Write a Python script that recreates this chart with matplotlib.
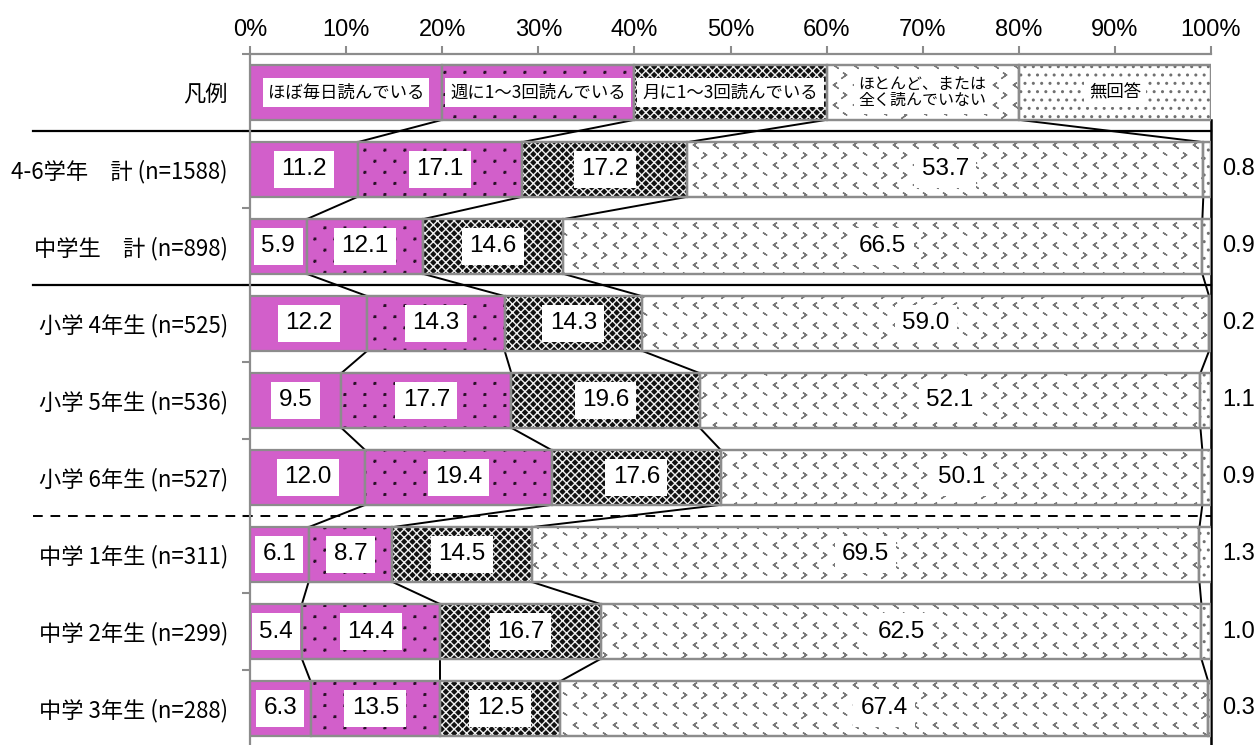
import matplotlib
matplotlib.use('Agg')
import matplotlib.pyplot as plt
import matplotlib.hatch as mhatch
from matplotlib.path import Path
import numpy as np

# ---------------- data ----------------
row_labels = ['凡例',
              '4-6学年\u3000計 (n=1588)',
              '中学生\u3000計 (n=898)',
              '小学 4年生 (n=525)',
              '小学 5年生 (n=536)',
              '小学 6年生 (n=527)',
              '中学 1年生 (n=311)',
              '中学 2年生 (n=299)',
              '中学 3年生 (n=288)']
series_names = ['ほぼ毎日読んでいる', '週に1～3回読んでいる', '月に1～3回読んでいる',
                'ほとんど、または\n全く読んでいない', '無回答']
legend_share = [20, 20, 20, 20, 20]
daily = [11.2, 5.9, 12.2, 9.5, 12.0, 6.1, 5.4, 6.3]
weekly = [17.1, 12.1, 14.3, 17.7, 19.4, 8.7, 14.4, 13.5]
monthly = [17.2, 14.6, 14.3, 19.6, 17.6, 14.5, 16.7, 12.5]
rarely = [53.7, 66.5, 59.0, 52.1, 50.1, 69.5, 62.5, 67.4]
noans = [0.8, 0.9, 0.2, 1.1, 0.9, 1.3, 1.0, 0.3]
xticks = [0, 10, 20, 30, 40, 50, 60, 70, 80, 90, 100]


# ---------------- custom hatch textures ----------------
class CustomTextures(mhatch.HatchPatternBase):
    """'*' -> staggered rows of small chevrons (< >), 'o' -> sparse tiny dots."""

    def __init__(self, hatch, density):
        self.shapes = []
        if '*' in hatch:
            ncol, nrow, w, hh = 5, 10, 0.014, 0.02
            for j in range(nrow):
                y = (j + 0.5) / nrow
                for i in range(ncol):
                    x = (i + 0.25 + 0.5 * (j % 2)) / ncol
                    s = 1 if j % 2 == 0 else -1
                    p0 = (x - s * w, y + hh)
                    p1 = (x + s * w, y)
                    p2 = (x - s * w, y - hh)
                    self.shapes.append([p0, p1, p2, p1, p0])
        if 'o' in hatch:
            ncol, nrow, r = 5, 9, 0.007
            for j in range(nrow):
                y = (j + 0.5) / nrow
                for i in range(ncol):
                    x = (i + 0.25 + 0.5 * (j % 2)) / ncol
                    self.shapes.append([(x - r, y - r), (x + r, y - r),
                                        (x + r, y + r), (x - r, y + r),
                                        (x - r, y - r)])
        self.num_vertices = sum(len(s) for s in self.shapes)

    def set_vertices_and_codes(self, vertices, codes):
        c = 0
        for s in self.shapes:
            n = len(s)
            vertices[c:c + n] = s
            codes[c] = Path.MOVETO
            codes[c + 1:c + n] = Path.LINETO
            c += n


mhatch._hatch_types = [t for t in mhatch._hatch_types
                       if t not in (mhatch.Stars, mhatch.SmallCircles)] + [CustomTextures]

# ---------------- style ----------------
plt.rcParams['hatch.linewidth'] = 1.0
CJK = ['Noto Sans CJK JP', 'DejaVu Sans']
NUM = ['Liberation Sans', 'DejaVu Sans']
MAG = '#D25FCA'
EDGE = '#8c8c8c'
styles = [
    dict(face=MAG, hatch=None, hcolor=None),
    dict(face=MAG, hatch='o', hcolor='#2a1028'),
    dict(face='#111111', hatch='xxxx', hcolor='#f0f0f0'),
    dict(face='white', hatch='*', hcolor='#7a7a7a'),
    dict(face='white', hatch='..', hcolor='#707070'),
]

fig = plt.figure(figsize=(12.55, 7.45), dpi=100)
ax = fig.add_axes([250 / 1255, -2 / 745, 961 / 1255, 693 / 745])

data = np.array([daily, weekly, monthly, rarely, noans]).T  # rows x series
allrows = np.vstack([np.array(legend_share, dtype=float), data])
nrows = allrows.shape[0]
ypos = np.arange(nrows)
h = 0.71
lefts = np.zeros(nrows)
cums = []
for k in range(5):
    vals = allrows[:, k]
    st = styles[k]
    ax.barh(ypos, vals, left=lefts, height=h, color=st['face'],
            edgecolor=EDGE, linewidth=1.6, zorder=2)
    if st['hatch']:
        ax.barh(ypos, vals, left=lefts, height=h, facecolor='none',
                edgecolor=st['hcolor'], hatch=st['hatch'], linewidth=0, zorder=2.1)
        ax.barh(ypos, vals, left=lefts, height=h, facecolor='none',
                edgecolor=EDGE, linewidth=1.6, zorder=2.2)
    # labels
    for r in range(nrows):
        cx = lefts[r] + vals[r] / 2
        if r == 0:
            two = '\n' in series_names[k]
            ax.text(cx, r, series_names[k], ha='center', va='center',
                    fontsize=11.5 if two else 12.5,
                    family=CJK, linespacing=0.95, zorder=4,
                    bbox=dict(boxstyle='square,pad=0.3', facecolor='white', edgecolor='none'))
        elif k < 4:
            ax.text(cx, r, f'{vals[r]:.1f}', ha='center', va='center', fontsize=17.5,
                    family=NUM, zorder=4,
                    bbox=dict(boxstyle='square,pad=0.3', facecolor='white', edgecolor='none'))
        else:
            ax.annotate(f'{vals[r]:.1f}', xy=(100, r), xytext=(8, 0),
                        textcoords='offset points', ha='left', va='center',
                        fontsize=17, family=NUM, annotation_clip=False)
    lefts = lefts + vals
    cums.append(lefts.copy())

# series connector lines
for k in range(4):
    c = cums[k]
    for r in range(nrows - 1):
        ax.plot([c[r], c[r + 1]], [r + h / 2, r + 1 - h / 2], color='black',
                lw=1.4, zorder=1.5, solid_capstyle='butt')

# right black line
ax.plot([100, 100], [h / 2, nrows - 0.5], color='black', lw=1.8, zorder=1.4,
        clip_on=False)

# group separators
xl = -22.6
ax.plot([xl, 100], [0.5, 0.5], color='black', lw=1.6, clip_on=False, zorder=1.6)
ax.plot([xl, 100], [2.5, 2.5], color='black', lw=1.6, clip_on=False, zorder=1.6)
ax.plot([xl, 100], [5.5, 5.5], color='black', lw=1.4, clip_on=False, zorder=1.6,
        dashes=(5, 4))

ax.set_xlim(0, 100)
ax.set_ylim(nrows - 0.5, -0.5)

# x axis on top
ax.xaxis.tick_top()
ax.set_xticks(xticks)
ax.set_xticklabels([f'{t}%' for t in xticks], fontsize=17, family=NUM)
ax.tick_params(axis='x', which='major', length=6, width=1.5, color=EDGE, pad=3)

# y ticks at boundaries, labels at centres
ax.set_yticks(np.arange(-0.5, nrows, 1))
ax.set_yticklabels([])
ax.tick_params(axis='y', which='major', length=6, width=1.5, color=EDGE)
ax.set_yticks(ypos, minor=True)
ax.set_yticklabels(row_labels, minor=True, fontsize=16, family=CJK)
ax.tick_params(axis='y', which='minor', length=0, pad=16)

for s in ['right', 'bottom']:
    ax.spines[s].set_visible(False)
for s in ['top', 'left']:
    ax.spines[s].set_color(EDGE)
    ax.spines[s].set_linewidth(1.6)

fig.savefig('out.png', dpi=100)
